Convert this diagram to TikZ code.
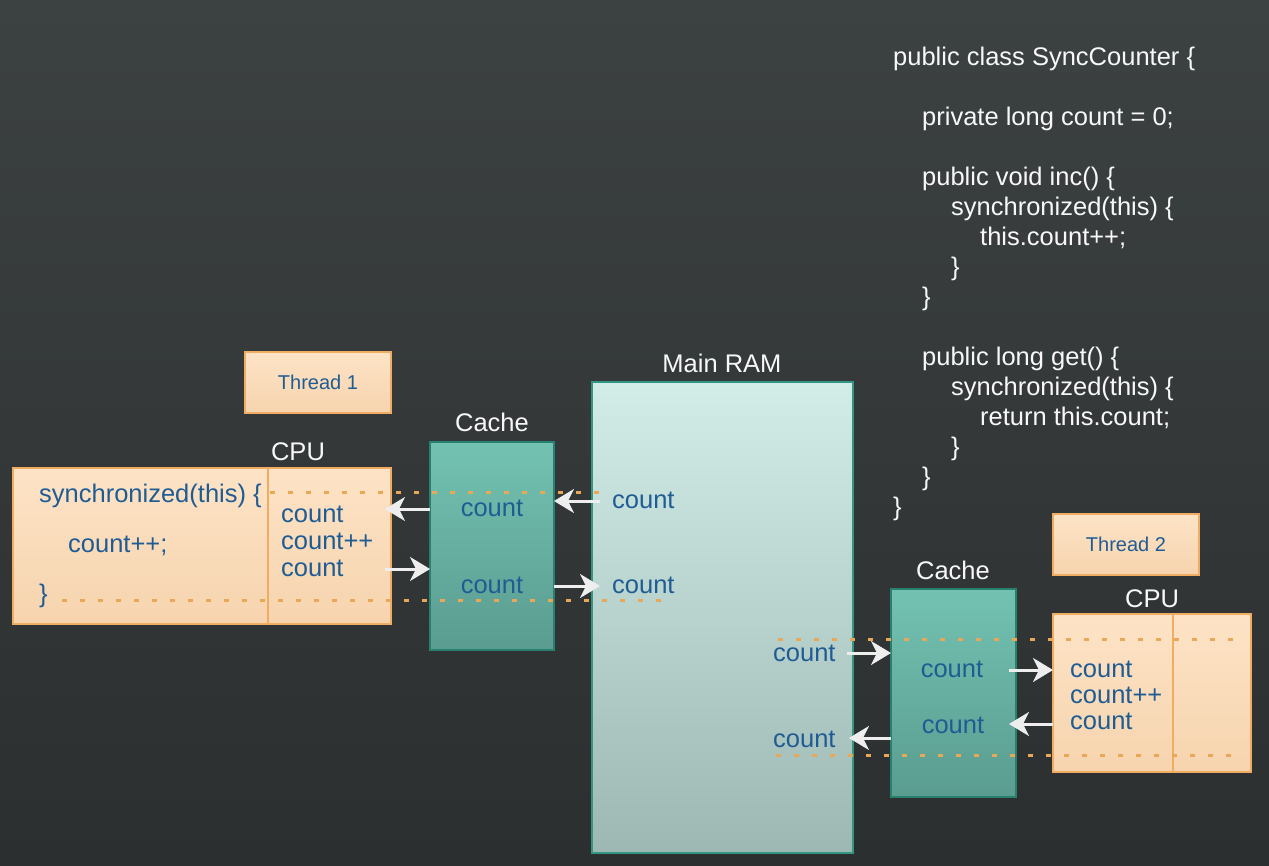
\documentclass[tikz,border=0pt]{standalone}
\usepackage{fontspec}
\setmainfont{Liberation Sans}
\usetikzlibrary{arrows.meta}
\definecolor{bgtop}{RGB}{60,65,66}
\definecolor{bgbot}{RGB}{44,47,48}
\definecolor{orfilltop}{RGB}{253,227,198}
\definecolor{orfillbot}{RGB}{246,212,174}
\definecolor{orborder}{RGB}{240,172,96}
\definecolor{cachetop}{RGB}{115,194,177}
\definecolor{cachebot}{RGB}{90,156,144}
\definecolor{cacheborder}{RGB}{40,128,110}
\definecolor{ramtop}{RGB}{210,236,232}
\definecolor{rambot}{RGB}{157,183,178}
\definecolor{ramborder}{RGB}{50,150,130}
\definecolor{bluetxt}{RGB}{31,92,148}
\definecolor{dashcol}{RGB}{232,168,88}
\definecolor{arrcol}{RGB}{238,238,238}
\definecolor{whitetxt}{RGB}{248,248,248}
\newcommand\bigsz{\fontsize{25.5}{30}\selectfont}
\newcommand\smallsz{\fontsize{20}{24}\selectfont}
\tikzset{
  orbox/.style={draw=orborder, line width=1.5pt, top color=orfilltop, bottom color=orfillbot, inner sep=0pt, outer sep=0pt},
  cachebox/.style={draw=cacheborder, line width=1.5pt, top color=cachetop, bottom color=cachebot, inner sep=0pt, outer sep=0pt},
  rambox/.style={draw=ramborder, line width=1.5pt, top color=ramtop, bottom color=rambot, inner sep=0pt, outer sep=0pt},
  wlabel/.style={text=whitetxt, font=\bigsz, inner sep=0pt, anchor=base},
  codeline/.style={text=whitetxt, font=\bigsz, inner sep=0pt, anchor=base west},
  btxt/.style={text=bluetxt, font=\bigsz, inner sep=0pt, anchor=base west},
  bctxt/.style={text=bluetxt, font=\bigsz, inner sep=0pt, anchor=base},
  dashline/.style={draw=dashcol, line width=3pt, dash pattern=on 5pt off 13pt},
  arr/.style={draw=arrcol, line width=3pt, -{Stealth[length=20pt, width=24pt, inset=6pt]}},
  divider/.style={draw=orborder, line width=1.5pt}
}
\begin{document}
\begin{tikzpicture}[x=1pt, y=-1pt]
\useasboundingbox (0,0) rectangle (1269,865);
\fill[top color=bgtop, bottom color=bgbot] (0,0) rectangle (1269,865);

% boxes
\node[orbox, minimum width=146pt, minimum height=61pt, text=bluetxt, font=\smallsz] (thread1) at (318,382.5) {Thread 1};
\node[orbox, minimum width=378pt, minimum height=156pt] (cpu1) at (202,546) {};
\draw[divider] (268,468) coordinate (d1t) -- (268,624) coordinate (d1b);
\node[cachebox, minimum width=124pt, minimum height=208pt] (cache1) at (492,546) {};
\node[rambox, minimum width=261pt, minimum height=471pt] (ram) at (722.5,617.5) {};
\node[orbox, minimum width=146pt, minimum height=61pt, text=bluetxt, font=\smallsz] (thread2) at (1126,544.5) {Thread 2};
\node[cachebox, minimum width=125pt, minimum height=208pt] (cache2) at (953.5,693) {};
\node[orbox, minimum width=198pt, minimum height=158pt] (cpu2) at (1152,693) {};
\draw[divider] (1173,614) coordinate (d2t) -- (1173,772) coordinate (d2b);

% labels
\node[wlabel] (cpu1lab) at (298,460) {CPU};
\node[wlabel] (cache1lab) at (492,431) {Cache};
\node[wlabel] (ramlab) at (722,372) {Main RAM};
\node[wlabel] (cache2lab) at (953,579) {Cache};
\node[wlabel] (cpu2lab) at (1152,607) {CPU};

% dashed lines
\coordinate (dl1a) at (270,492); \coordinate (dl1b) at (602,492);
\coordinate (dl2a) at (62,600); \coordinate (dl2b) at (668,600);
\coordinate (dl3a) at (778,639); \coordinate (dl3b) at (1242,639);
\coordinate (dl4a) at (776,755); \coordinate (dl4b) at (1240,755);
\draw[dashline] (dl1a) -- (dl1b);
\draw[dashline] (dl2a) -- (dl2b);
\draw[dashline] (dl3a) -- (dl3b);
\draw[dashline] (dl4a) -- (dl4b);

% CPU1 texts
\node[btxt] (s1) at (39,502) {synchronized(this) \{};
\node[btxt] (s2) at (68,552) {count++;};
\node[btxt] (s3) at (39,602) {\}};
\node[btxt] (c1a) at (281,522) {count};
\node[btxt] (c1b) at (281,549) {count++};
\node[btxt] (c1c) at (281,576) {count};
% cache1 texts
\node[bctxt] (k1a) at (492,516) {count};
\node[bctxt] (k1b) at (492,593) {count};
% RAM texts
\node[btxt] (r1) at (612,508) {count};
\node[btxt] (r2) at (612,593) {count};
\node[btxt] (r3) at (773,661) {count};
\node[btxt] (r4) at (773,747) {count};
% cache2 texts
\node[bctxt] (k2a) at (952,677) {count};
\node[bctxt] (k2b) at (953,733) {count};
% CPU2 texts
\node[btxt] (c2a) at (1070,677) {count};
\node[btxt] (c2b) at (1070,703) {count++};
\node[btxt] (c2c) at (1070,729) {count};

% arrows
\coordinate (a1s) at (cache1.west |- 0,509); \coordinate (a1e) at (385,509);
\coordinate (a2s) at (385,569); \coordinate (a2e) at (cache1.west |- 0,569);
\coordinate (a3s) at (600,501); \coordinate (a3e) at (cache1.east |- 0,501);
\coordinate (a4s) at (cache1.east |- 0,586); \coordinate (a4e) at (600,586);
\coordinate (a5s) at (847,653); \coordinate (a5e) at (cache2.west |- 0,653);
\coordinate (a6s) at (cache2.west |- 0,738); \coordinate (a6e) at (849,738);
\coordinate (a7s) at (1009,670); \coordinate (a7e) at (cpu2.west |- 0,670);
\coordinate (a8s) at (cpu2.west |- 0,724); \coordinate (a8e) at (1009,724);
\draw[arr] (a1s) -- (a1e);
\draw[arr] (a2s) -- (a2e);
\draw[arr] (a3s) -- (a3e);
\draw[arr] (a4s) -- (a4e);
\draw[arr] (a5s) -- (a5e);
\draw[arr] (a6s) -- (a6e);
\draw[arr] (a7s) -- (a7e);
\draw[arr] (a8s) -- (a8e);

% code
\node[codeline] (L1) at (893,65) {public class SyncCounter \{};
\node[codeline] (L2) at (922,125) {private long count = 0;};
\node[codeline] (L3) at (922,185) {public void inc() \{};
\node[codeline] (L4) at (951,215) {synchronized(this) \{};
\node[codeline] (L5) at (980,245) {this.count++;};
\node[codeline] (L6) at (951,275) {\}};
\node[codeline] (L7) at (922,305) {\}};
\node[codeline] (L8) at (922,365) {public long get() \{};
\node[codeline] (L9) at (951,395) {synchronized(this) \{};
\node[codeline] (L10) at (980,425) {return this.count;};
\node[codeline] (L11) at (951,455) {\}};
\node[codeline] (L12) at (922,485) {\}};
\node[codeline] (L13) at (893,515) {\}};
\end{tikzpicture}
\end{document}
